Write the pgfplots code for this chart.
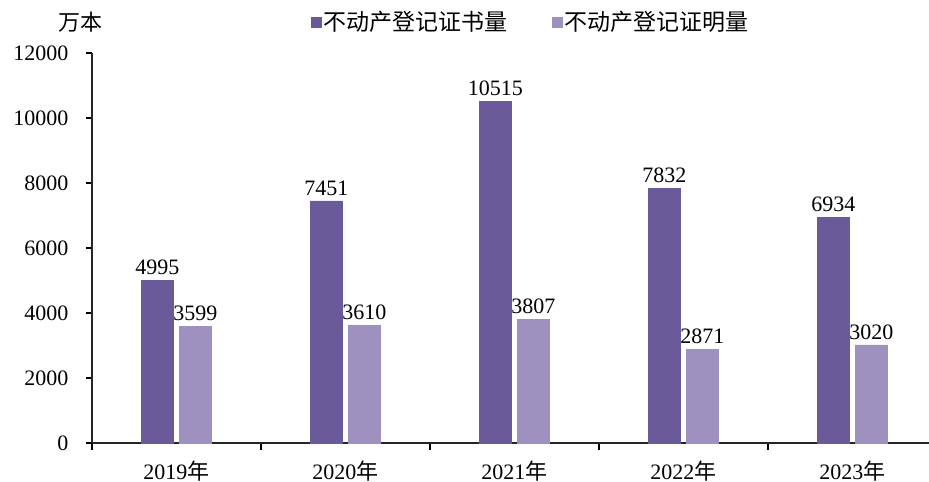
\documentclass[border=0pt]{standalone}
\usepackage{pgfplots}
\pgfplotsset{compat=1.18}
\usepackage{fontspec}
\setmainfont{Liberation Serif}
\newfontfamily\cjk{Noto Sans CJK SC}
\definecolor{darkp}{HTML}{6B5A99}
\definecolor{lightp}{HTML}{9E91BF}
\begin{document}
\begin{tikzpicture}
\begin{axis}[
  at={(92bp,39bp)}, anchor=south west,
  scale only axis, width=837bp, height=390bp,
  ybar=6bp, bar width=32bp,
  xmin=-0.5, xmax=4.453, ymin=0, ymax=12000,
  axis lines=left,
  axis line style={-, line width=1.6bp, black!85},
  xtick={0,1,2,3,4},
  xticklabels={2019{\cjk 年},2020{\cjk 年},2021{\cjk 年},2022{\cjk 年},2023{\cjk 年}},
  minor xtick={-0.5,0.5,1.5,2.5,3.5},
  major x tick style={draw=none},
  minor x tick style={line width=1.4bp, black},
  minor tick length=7bp,
  ytick={0,2000,...,12000},
  major tick length=6bp,
  tick align=outside,
  y tick style={line width=1.2bp, black},
  scaled y ticks=false,
  /pgf/number format/fixed,
  /pgf/number format/1000 sep={},
  /pgf/number format/assume math mode=true,
  yticklabel style={font=\fontsize{22bp}{24bp}\selectfont, xshift=-14bp},
  xticklabel style={font=\fontsize{22bp}{24bp}\selectfont, yshift=-8bp},
  nodes near coords,
  nodes near coords style={font=\fontsize{22bp}{24bp}\selectfont, yshift=2bp},
  legend columns=2,
  legend style={draw=none, fill=none, at={(0.261,1.08)}, anchor=west,
    font=\fontsize{23bp}{25bp}\cjk, inner sep=0pt,
    /tikz/every even column/.append style={column sep=43bp}},
  legend image code/.code={\fill[#1] (0bp,-5bp) rectangle (10bp,5bp);},
  clip=false,
]
\addplot[fill=darkp, draw=darkp] coordinates {(0,4995) (1,7451) (2,10515) (3,7832) (4,6934)};
\addplot[fill=lightp, draw=lightp] coordinates {(0,3599) (1,3610) (2,3807) (3,2871) (4,3020)};
\legend{不动产登记证书量,不动产登记证明量}
\node[font=\fontsize{22bp}{24bp}\cjk, anchor=center] at (rel axis cs:-0.014,1.08) {万本};
\end{axis}
\pgfresetboundingbox
\useasboundingbox (0,0) rectangle (929bp,482bp);
\end{tikzpicture}
\end{document}
